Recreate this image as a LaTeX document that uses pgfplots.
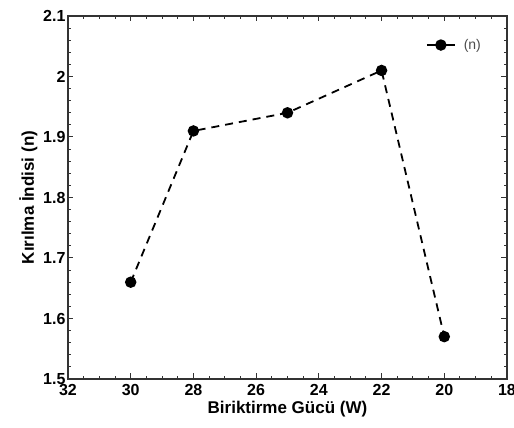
\documentclass[border=0pt]{standalone}
\usepackage{pgfplots}
\pgfplotsset{compat=1.18}
\usetikzlibrary{calc}
\usepackage{fontspec}
\setmainfont{Liberation Sans}
\begin{document}
\begin{tikzpicture}
\begin{axis}[
  scale only axis,
  width=439pt, height=363pt,
  x dir=reverse,
  xmin=18, xmax=32, ymin=1.5, ymax=2.1,
  xtick={18,20,...,32}, ytick={1.5,1.6,...,2.1},
  minor x tick num=3, minor y tick num=4,
  tick align=inside,
  major tick length=5.5pt, minor tick length=3pt,
  axis line style={line width=1.3pt, black!80},
  every tick/.style={line width=1pt, black!80},
  tick label style={font=\fontsize{16}{18}\selectfont\bfseries},
  xticklabel style={yshift=-2pt},
  yticklabel style={xshift=1pt, /pgf/number format/.cd, fixed, precision=1},
  /pgf/number format/assume math mode=true,
  xlabel={\fontsize{17}{19}\selectfont\bfseries Biriktirme Gücü (W)},
  ylabel={\fontsize{17}{19}\selectfont\bfseries Kırılma İndisi (n)},
  xlabel style={yshift=1.5pt},
  ylabel style={yshift=-1pt},
  legend style={draw=none, fill=none, at={(0.815,0.92)}, anchor=west, inner xsep=0pt, font=\fontsize{14}{16}\selectfont\color{black!70}},
  legend image code/.code={\draw[#1, solid, mark repeat=2, mark phase=2] plot coordinates {(0pt,0pt) (14pt,0pt) (28pt,0pt)};},
  legend cell align=left,
]
\addplot[black, line width=1.8pt, dash pattern=on 8pt off 6pt, mark=*, mark size=4.8pt, mark options={solid}]
  coordinates {(30,1.66) (28,1.91) (25,1.94) (22,2.01) (20,1.57)};
\addlegendentry{\hspace{6pt}(n)}
\end{axis}
\pgfresetboundingbox
\path ($(current axis.south west)+(-68pt,-49pt)$) rectangle ($(current axis.north east)+(7pt,16pt)$);
\end{tikzpicture}
\end{document}
